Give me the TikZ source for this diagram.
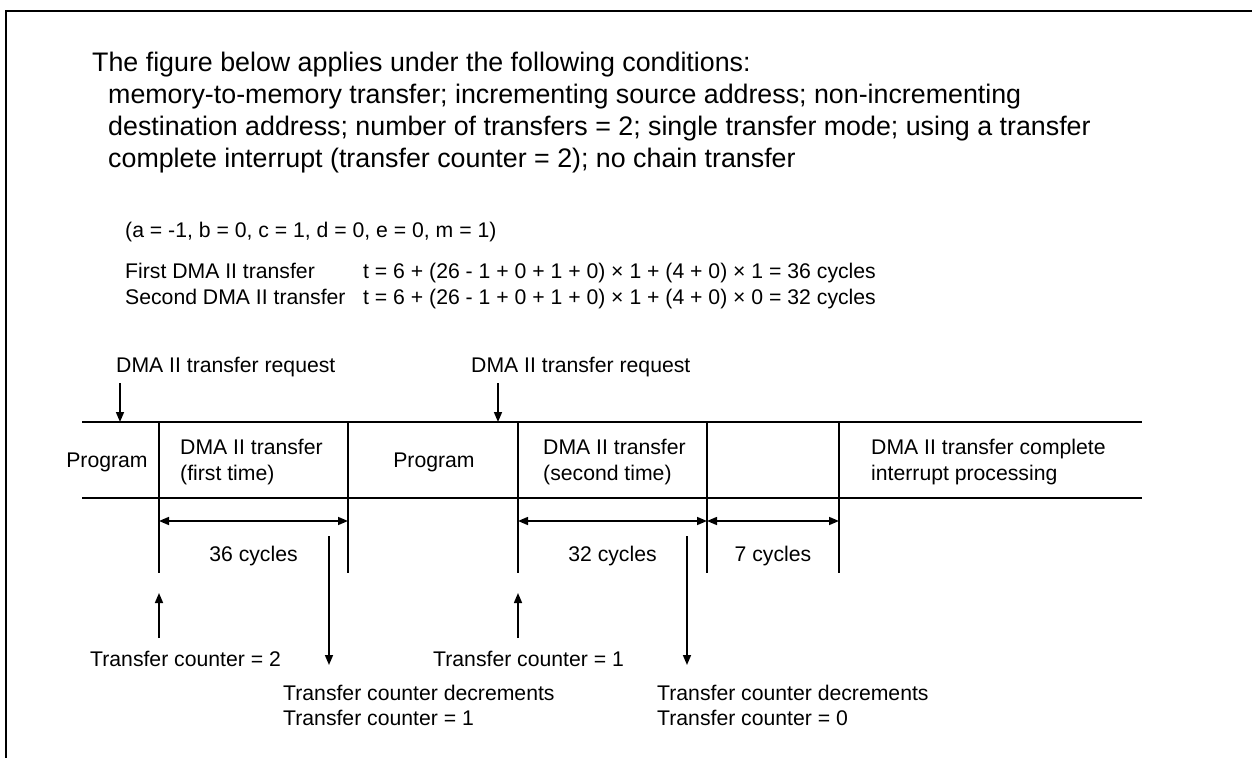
\documentclass[tikz,border=0pt]{standalone}
\usepackage{fontspec}
\setmainfont{Liberation Sans}
\usetikzlibrary{arrows.meta}
\newcommand{\lblfont}{\fontsize{21.2bp}{26bp}\selectfont}
\newcommand{\hdrfont}{\fontsize{26.8bp}{32bp}\selectfont}

\begin{document}
\begin{tikzpicture}[x=1bp, y=-1bp,
		lbl/.style={font=\lblfont, inner sep=0pt, anchor=base west},
		mid/.style={font=\lblfont, inner sep=0pt, anchor=base},
		hdr/.style={font=\hdrfont, inner sep=0pt, anchor=base west},
		tl/.style={line width=1.5bp},
		arr/.style={tl, -{Triangle[length=10bp,width=8bp]}},
		dim/.style={tl, {Triangle[length=10bp,width=8bp]}-{Triangle[length=10bp,width=8bp]}}]
		\useasboundingbox (0,0) rectangle (1252,758);
		\draw[line width=2.6bp] (6,758) -- (6,11) -- (1252,11);
		\node[hdr] (hdr1) at (92,71.5) {The figure below applies under the following conditions:};
		\node[hdr] (hdr2) at (108,103.5) {memory-to-memory transfer; incrementing source address; non-incrementing};
		\node[hdr] (hdr3) at (108,135.5) {destination address; number of transfers = 2; single transfer mode; using a transfer};
		\node[hdr] (hdr4) at (108,167.5) {complete interrupt (transfer counter = 2); no chain transfer};
		\node[lbl] (params) at (125,237) {(a = -1, b = 0, c = 1, d = 0, e = 0, m = 1)};
		\node[lbl] (first) at (125,278.3) {First DMA II transfer};
		\node[lbl] (eqfirst) at (363,278.3) {t = 6 + (26 - 1 + 0 + 1 + 0) × 1 + (4 + 0) × 1 = 36 cycles};
		\node[lbl] (second) at (125,304) {Second DMA II transfer};
		\node[lbl] (eqsecond) at (363,304) {t = 6 + (26 - 1 + 0 + 1 + 0) × 1 + (4 + 0) × 0 = 32 cycles};
		\coordinate (S) at (82,422);
		\coordinate (E) at (1142,422);
		\coordinate (S1) at (82,498);
		\coordinate (E1) at (1142,498);
		\draw[tl] (S) -- (E);
		\draw[tl] (S1) -- (E1);
		\foreach \x [count=\i] in {159,348,518,707,839} {
			\coordinate (D\i) at (\x,422);
			\coordinate (F\i) at (\x,573);
			\coordinate (M\i) at (\x,521);
			\draw[tl] (D\i) -- (F\i);
		}
		\node[lbl] (req1) at (116,372.7) {DMA II transfer request};
		\node[lbl] (req2) at (471,372.7) {DMA II transfer request};
		\coordinate (R1) at (120,383);
		\coordinate (R1t) at (120,422);
		\coordinate (R2) at (498,383);
		\coordinate (R2t) at (498,422);
		\draw[arr] (R1) -- (R1t);
		\draw[arr] (R2) -- (R2t);
		\node[mid] (prog1) at (107,467) {Program};
		\node[lbl] (dma1a) at (180,454) {DMA II transfer};
		\node[lbl] (dma1b) at (180,480) {(first time)};
		\node[mid] (prog2) at (434,467) {Program};
		\node[lbl] (dma2a) at (543,454) {DMA II transfer};
		\node[lbl] (dma2b) at (543,480) {(second time)};
		\node[lbl] (irqa) at (871,454) {DMA II transfer complete};
		\node[lbl] (irqb) at (871,480) {interrupt processing};
		\draw[dim] (M1) -- (M2);
		\draw[dim] (M3) -- (M4);
		\draw[dim] (M4) -- (M5);
		\node[mid] (cyc1) at (253.5,561) {36 cycles};
		\node[mid] (cyc2) at (612.5,561) {32 cycles};
		\node[mid] (cyc3) at (773,561) {7 cycles};
		\coordinate (U1) at (159,638);
		\coordinate (U1t) at (159,593);
		\coordinate (U2) at (518,638);
		\coordinate (U2t) at (518,593);
		\coordinate (W1) at (329,536);
		\coordinate (W1t) at (329,665);
		\coordinate (W2) at (687,536);
		\coordinate (W2t) at (687,665);
		\draw[arr] (U1) -- (U1t);
		\draw[arr] (U2) -- (U2t);
		\draw[arr] (W1) -- (W1t);
		\draw[arr] (W2) -- (W2t);
		\node[lbl] (cnt2) at (90,666.7) {Transfer counter = 2};
		\node[lbl] (dec1) at (283,700) {Transfer counter decrements};
		\node[lbl] (cnt1a) at (283,725) {Transfer counter = 1};
		\node[lbl] (cnt1) at (433,666.7) {Transfer counter = 1};
		\node[lbl] (dec2) at (657,700) {Transfer counter decrements};
		\node[lbl] (cnt0) at (657,725) {Transfer counter = 0};
	\end{tikzpicture}
\end{document}
